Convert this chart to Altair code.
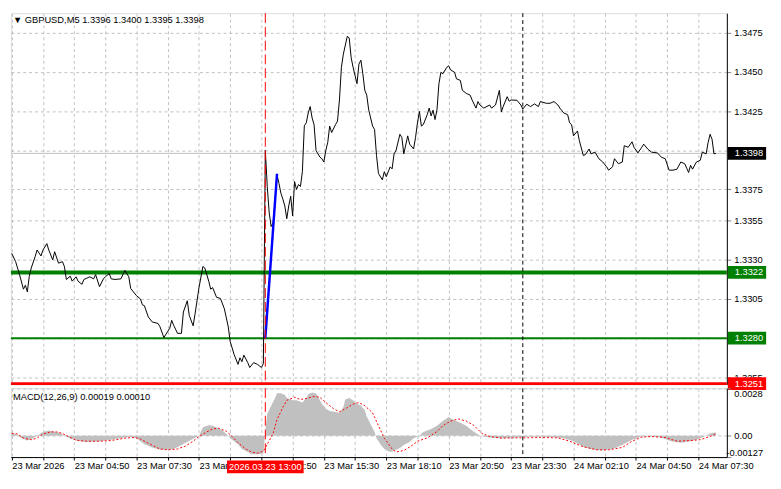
import altair as alt
import pandas as pd

# ---------------- data ----------------
price_times = [
    "03-23 02:10", "03-23 02:20", "03-23 02:30", "03-23 02:40", "03-23 02:45", "03-23 02:50", "03-23 02:55", "03-23 03:00",
    "03-23 03:10", "03-23 03:15", "03-23 03:25", "03-23 03:30", "03-23 03:40", "03-23 03:45", "03-23 03:55", "03-23 04:00",
    "03-23 04:10", "03-23 04:20", "03-23 04:25", "03-23 04:30", "03-23 04:40", "03-23 04:45", "03-23 04:55", "03-23 05:00",
    "03-23 05:10", "03-23 05:15", "03-23 05:30", "03-23 05:40", "03-23 05:45", "03-23 05:55", "03-23 06:05", "03-23 06:10",
    "03-23 06:20", "03-23 06:25", "03-23 06:35", "03-23 06:50", "03-23 07:00", "03-23 07:10", "03-23 07:15", "03-23 07:30",
    "03-23 07:40", "03-23 07:45", "03-23 07:50", "03-23 08:00", "03-23 08:10", "03-23 08:25", "03-23 08:30", "03-23 08:40",
    "03-23 08:55", "03-23 09:00", "03-23 09:05", "03-23 09:15", "03-23 09:25", "03-23 09:30", "03-23 09:40", "03-23 09:45",
    "03-23 09:55", "03-23 10:00", "03-23 10:10", "03-23 10:20", "03-23 10:25", "03-23 10:35", "03-23 10:40", "03-23 10:45",
    "03-23 10:55", "03-23 11:05", "03-23 11:15", "03-23 11:25", "03-23 11:30", "03-23 11:40", "03-23 11:50", "03-23 11:55",
    "03-23 12:00", "03-23 12:05", "03-23 12:15", "03-23 12:20", "03-23 12:30", "03-23 12:40", "03-23 12:50", "03-23 12:55",
    "03-23 13:00", "03-23 13:05", "03-23 13:10", "03-23 13:15", "03-23 13:20", "03-23 13:25", "03-23 13:30", "03-23 13:35",
    "03-23 13:40", "03-23 13:45", "03-23 13:50", "03-23 13:55", "03-23 14:00", "03-23 14:05", "03-23 14:10", "03-23 14:15",
    "03-23 14:20", "03-23 14:25", "03-23 14:30", "03-23 14:35", "03-23 14:40", "03-23 14:45", "03-23 14:50", "03-23 14:55",
    "03-23 15:00", "03-23 15:05", "03-23 15:10", "03-23 15:20", "03-23 15:25", "03-23 15:30", "03-23 15:35", "03-23 15:40",
    "03-23 15:45", "03-23 15:50", "03-23 16:00", "03-23 16:05", "03-23 16:10", "03-23 16:15", "03-23 16:20", "03-23 16:30",
    "03-23 16:35", "03-23 16:40", "03-23 16:45", "03-23 16:50", "03-23 16:55", "03-23 17:00", "03-23 17:05", "03-23 17:10",
    "03-23 17:15", "03-23 17:20", "03-23 17:25", "03-23 17:35", "03-23 17:40", "03-23 17:45", "03-23 17:50", "03-23 18:00",
    "03-23 18:05", "03-23 18:10", "03-23 18:20", "03-23 18:25", "03-23 18:30", "03-23 18:35", "03-23 18:45", "03-23 18:50",
    "03-23 18:55", "03-23 19:05", "03-23 19:10", "03-23 19:20", "03-23 19:25", "03-23 19:30", "03-23 19:35", "03-23 19:40",
    "03-23 19:45", "03-23 19:55", "03-23 20:00", "03-23 20:05", "03-23 20:10", "03-23 20:15", "03-23 20:20", "03-23 20:25",
    "03-23 20:30", "03-23 20:35", "03-23 20:45", "03-23 20:50", "03-23 20:55", "03-23 21:05", "03-23 21:10", "03-23 21:20",
    "03-23 21:25", "03-23 21:35", "03-23 21:45", "03-23 21:50", "03-23 22:00", "03-23 22:05", "03-23 22:10", "03-23 22:20",
    "03-23 22:35", "03-23 22:40", "03-23 22:50", "03-23 23:00", "03-23 23:05", "03-23 23:10", "03-23 23:20", "03-23 23:25",
    "03-23 23:30", "03-23 23:45", "03-23 23:55", "03-24 00:00", "03-24 00:10", "03-24 00:20", "03-24 00:30", "03-24 00:40",
    "03-24 00:45", "03-24 01:00", "03-24 01:10", "03-24 01:20", "03-24 01:30", "03-24 01:35", "03-24 01:45", "03-24 01:55",
    "03-24 02:00", "03-24 02:05", "03-24 02:10", "03-24 02:20", "03-24 02:25", "03-24 02:35", "03-24 02:40", "03-24 02:50",
    "03-24 02:55", "03-24 03:05", "03-24 03:15", "03-24 03:25", "03-24 03:35", "03-24 03:40", "03-24 03:50", "03-24 03:55",
    "03-24 04:05", "03-24 04:15", "03-24 04:20", "03-24 04:30", "03-24 04:40", "03-24 04:45", "03-24 04:55", "03-24 05:05",
    "03-24 05:10", "03-24 05:20", "03-24 05:30", "03-24 05:45", "03-24 05:55", "03-24 06:05", "03-24 06:15", "03-24 06:25",
    "03-24 06:35", "03-24 06:45", "03-24 06:55", "03-24 07:05", "03-24 07:10", "03-24 07:15", "03-24 07:25", "03-24 07:35",
    "03-24 07:40", "03-24 07:50", "03-24 07:55", "03-24 08:00", "03-24 08:05", "03-24 08:10", "03-24 08:15",
]
price_values = [
    1.33342, 1.33289, 1.33206, 1.33113, 1.33138, 1.33096, 1.33196, 1.33248,
    1.33321, 1.33363, 1.33325, 1.33363, 1.33404, 1.33363, 1.33300, 1.33352,
    1.33279, 1.33289, 1.33258, 1.33175, 1.33196, 1.33164, 1.33192, 1.33164,
    1.33144, 1.33175, 1.33192, 1.33179, 1.33206, 1.33129, 1.33179, 1.33192,
    1.33213, 1.33179, 1.33175, 1.33179, 1.33233, 1.33192, 1.33117, 1.33071,
    1.33050, 1.33013, 1.33008, 1.32936, 1.32904, 1.32894, 1.32873, 1.32804,
    1.32863, 1.32914, 1.32883, 1.32831, 1.32831, 1.32967, 1.33039, 1.32946,
    1.32879, 1.32956, 1.33123, 1.33258, 1.33248, 1.33164, 1.33113, 1.33123,
    1.33061, 1.33054, 1.32988, 1.32873, 1.32779, 1.32696, 1.32633, 1.32675,
    1.32650, 1.32692, 1.32644, 1.32613, 1.32644, 1.32633, 1.32613, 1.32638,
    1.34000, 1.33769, 1.33600, 1.33513, 1.33538, 1.33675, 1.33844, 1.33788,
    1.33725, 1.33688, 1.33644, 1.33563, 1.33644, 1.33706, 1.33581, 1.33800,
    1.33750, 1.33781, 1.33769, 1.33863, 1.34156, 1.34175, 1.34238, 1.34279,
    1.34206, 1.34163, 1.33998, 1.33956, 1.33946, 1.33925, 1.33998, 1.34050,
    1.34154, 1.34113, 1.34164, 1.34186, 1.34321, 1.34529, 1.34613, 1.34727,
    1.34717, 1.34592, 1.34529, 1.34477, 1.34425, 1.34550, 1.34575, 1.34488,
    1.34383, 1.34352, 1.34258, 1.34154, 1.34133, 1.33967, 1.33852, 1.33811,
    1.33863, 1.33831, 1.33894, 1.33881, 1.33977, 1.33998, 1.34102, 1.34081,
    1.33977, 1.34092, 1.34039, 1.34008, 1.34081, 1.34175, 1.34248, 1.34154,
    1.34164, 1.34227, 1.34269, 1.34219, 1.34256, 1.34196, 1.34258, 1.34425,
    1.34498, 1.34488, 1.34529, 1.34539, 1.34513, 1.34498, 1.34456, 1.34446,
    1.34383, 1.34363, 1.34352, 1.34321, 1.34269, 1.34311, 1.34289, 1.34269,
    1.34289, 1.34269, 1.34289, 1.34383, 1.34244, 1.34281, 1.34342, 1.34313,
    1.34321, 1.34319, 1.34289, 1.34263, 1.34294, 1.34279, 1.34296, 1.34279,
    1.34311, 1.34300, 1.34300, 1.34311, 1.34289, 1.34269, 1.34238, 1.34227,
    1.34175, 1.34164, 1.34092, 1.34123, 1.34061, 1.33967, 1.33971, 1.34008,
    1.33977, 1.33988, 1.33946, 1.33925, 1.33894, 1.33873, 1.33894, 1.33946,
    1.33914, 1.33925, 1.34029, 1.34019, 1.34054, 1.34019, 1.33983, 1.34019,
    1.34039, 1.34008, 1.33988, 1.33983, 1.33956, 1.33946, 1.33873, 1.33873,
    1.33879, 1.33925, 1.33914, 1.33858, 1.33904, 1.33879, 1.33925, 1.33936,
    1.33988, 1.33977, 1.34050, 1.34102, 1.34071, 1.33977, 1.33980,
]

blue_times = ["03-23 13:00", "03-23 13:30"]
blue_values = [1.3280, 1.3385]

macd_times = [
    "03-23 02:10", "03-23 02:20", "03-23 02:35", "03-23 02:50", "03-23 03:05", "03-23 03:15", "03-23 03:30", "03-23 03:45",
    "03-23 03:55", "03-23 04:15", "03-23 04:25", "03-23 04:40", "03-23 04:55", "03-23 05:20", "03-23 05:55", "03-23 06:25",
    "03-23 07:00", "03-23 07:20", "03-23 07:35", "03-23 07:50", "03-23 08:10", "03-23 08:30", "03-23 08:50", "03-23 09:05",
    "03-23 09:20", "03-23 09:30", "03-23 09:40", "03-23 09:55", "03-23 10:10", "03-23 10:20", "03-23 10:35", "03-23 10:45",
    "03-23 11:00", "03-23 11:10", "03-23 11:25", "03-23 11:35", "03-23 11:50", "03-23 12:00", "03-23 12:15", "03-23 12:25",
    "03-23 12:40", "03-23 12:55", "03-23 13:00", "03-23 13:05", "03-23 13:15", "03-23 13:25", "03-23 13:30", "03-23 13:40",
    "03-23 13:50", "03-23 13:55", "03-23 14:10", "03-23 14:20", "03-23 14:35", "03-23 14:45", "03-23 14:50", "03-23 15:00",
    "03-23 15:10", "03-23 15:15", "03-23 15:25", "03-23 15:35", "03-23 15:45", "03-23 16:00", "03-23 16:10", "03-23 16:20",
    "03-23 16:25", "03-23 16:35", "03-23 16:45", "03-23 16:50", "03-23 17:05", "03-23 17:15", "03-23 17:20", "03-23 17:30",
    "03-23 17:40", "03-23 17:45", "03-23 17:55", "03-23 18:05", "03-23 18:20", "03-23 18:30", "03-23 18:45", "03-23 18:55",
    "03-23 19:10", "03-23 19:20", "03-23 19:35", "03-23 19:45", "03-23 20:05", "03-23 20:20", "03-23 20:35", "03-23 20:50",
    "03-23 21:00", "03-23 21:20", "03-23 21:35", "03-23 21:50", "03-23 22:10", "03-23 22:35", "03-23 23:05", "03-23 23:40",
    "03-24 00:15", "03-24 00:45", "03-24 01:20", "03-24 01:45", "03-24 02:10", "03-24 02:35", "03-24 03:00", "03-24 03:25",
    "03-24 03:50", "03-24 04:15", "03-24 04:40", "03-24 05:05", "03-24 05:30", "03-24 05:55", "03-24 06:20", "03-24 06:45",
    "03-24 07:10", "03-24 07:25", "03-24 07:45", "03-24 08:00", "03-24 08:10", "03-24 08:15",
]
macd_values = [
    0.00013, 0.00010, -0.00015, -0.00029, -0.00015, 0.0, 0.00022, 0.00031,
    0.00026, 0.00015, 0.0, -0.00015, -0.00029, -0.00037, -0.00033, -0.00024,
    -0.00011, -0.00007, -0.00024, -0.00051, -0.00070, -0.00084, -0.00084, -0.00079,
    -0.00062, -0.00050, -0.00038, -0.00018, 0.0, 0.00049, 0.00062, 0.00059,
    0.00044, 0.00031, 0.0, -0.00024, -0.00051, -0.00079, -0.00097, -0.00110,
    -0.00110, -0.00106, 0.00030, 0.00130, 0.00177, 0.00223, 0.00251, 0.00251,
    0.00240, 0.00223, 0.00209, 0.00209, 0.00196, 0.00223, 0.00245, 0.00256,
    0.00250, 0.00232, 0.00187, 0.00159, 0.00146, 0.00140, 0.00135, 0.00168,
    0.00214, 0.00223, 0.00209, 0.00196, 0.00177, 0.00150, 0.00114, 0.00068,
    0.00022, -0.00015, -0.00051, -0.00079, -0.00097, -0.00090, -0.00073, -0.00055,
    -0.00037, -0.00015, 0.0, 0.00022, 0.00040, 0.00059, 0.00086, 0.00110,
    0.00095, 0.00077, 0.00059, 0.00031, 0.0, -0.00011, -0.00015, -0.00011,
    -0.00007, -0.00007, -0.00009, -0.00015, -0.00033, -0.00066, -0.00084, -0.00088,
    -0.00079, -0.00055, -0.00024, -0.00005, -0.00005, -0.00011, -0.00033, -0.00042,
    -0.00033, -0.00024, -0.00005, 0.00013, 0.00018, 0.00019,
]

signal_times = [
    "03-23 02:10", "03-23 02:25", "03-23 02:40", "03-23 03:00", "03-23 03:15", "03-23 03:30", "03-23 03:50", "03-23 04:05",
    "03-23 04:20", "03-23 04:40", "03-23 04:55", "03-23 05:20", "03-23 05:55", "03-23 06:25", "03-23 07:00", "03-23 07:25",
    "03-23 07:40", "03-23 08:05", "03-23 08:30", "03-23 08:50", "03-23 09:15", "03-23 09:35", "03-23 09:55", "03-23 10:10",
    "03-23 10:30", "03-23 10:45", "03-23 11:00", "03-23 11:20", "03-23 11:35", "03-23 11:50", "03-23 12:10", "03-23 12:25",
    "03-23 12:40", "03-23 12:55", "03-23 13:05", "03-23 13:20", "03-23 13:30", "03-23 13:45", "03-23 13:55", "03-23 14:15",
    "03-23 14:30", "03-23 14:45", "03-23 15:05", "03-23 15:20", "03-23 15:35", "03-23 15:55", "03-23 16:10", "03-23 16:25",
    "03-23 16:45", "03-23 17:00", "03-23 17:15", "03-23 17:35", "03-23 17:50", "03-23 18:05", "03-23 18:25", "03-23 18:35",
    "03-23 18:55", "03-23 19:15", "03-23 19:30", "03-23 19:55", "03-23 20:20", "03-23 20:35", "03-23 20:55", "03-23 21:15",
    "03-23 21:35", "03-23 21:55", "03-23 22:15", "03-23 22:35", "03-23 23:05", "03-23 23:40", "03-24 00:15", "03-24 00:45",
    "03-24 01:30", "03-24 02:00", "03-24 02:35", "03-24 03:10", "03-24 03:40", "03-24 04:15", "03-24 04:40", "03-24 05:05",
    "03-24 05:30", "03-24 06:05", "03-24 06:35", "03-24 07:10", "03-24 07:35", "03-24 08:00", "03-24 08:15",
]
signal_values = [
    0.00013, 0.00010, -0.00015, -0.00024, -0.00015, 0.00010, 0.00022, 0.00022,
    0.00013, -0.00011, -0.00027, -0.00033, -0.00033, -0.00029, -0.00015, -0.00011,
    -0.00020, -0.00051, -0.00079, -0.00084, -0.00079, -0.00062, -0.00033, -0.00005,
    0.00022, 0.00040, 0.00044, 0.00026, -0.00005, -0.00042, -0.00079, -0.00097,
    -0.00104, -0.00092, -0.00051, 0.00013, 0.00095, 0.00168, 0.00209, 0.00227,
    0.00214, 0.00220, 0.00232, 0.00227, 0.00196, 0.00159, 0.00141, 0.00159,
    0.00187, 0.00196, 0.00177, 0.00135, 0.00059, -0.00015, -0.00079, -0.00097,
    -0.00088, -0.00060, -0.00033, -0.00013, 0.00024, 0.00059, 0.00086, 0.00099,
    0.00086, 0.00060, 0.00013, -0.00005, -0.00015, -0.00013, -0.00013, -0.00011,
    -0.00013, -0.00033, -0.00066, -0.00084, -0.00084, -0.00070, -0.00033, -0.00009,
    -0.00005, -0.00011, -0.00033, -0.00029, -0.00024, -0.00005, 0.00010,
]

level_prices = [1.3322, 1.3280, 1.3251]
level_colors = ["#008000", "#008000", "#ff0000"]
level_widths = [4, 2, 3]
bid_price = 1.3398

box_prices = [1.3398, 1.3322, 1.3280, 1.3251]
box_colors = ["#000000", "#008000", "#008000", "#ff0000"]

event_time = "03-23 13:00"
day_sep_time = "03-24 00:00"

y_ticks = [1.3475, 1.3450, 1.3425, 1.3400, 1.3375, 1.3355, 1.3330, 1.3305, 1.3280, 1.3255]
y_hidden = [1.3400, 1.3280]          # labels fully covered by the price boxes
macd_ticks = [0.0028, 0.0, -0.00127]
macd_tick_labels = ["0.0028", "0.00", "-0.00127"]

x_tick_times = [
    "03-23 02:10", "03-23 03:30", "03-23 04:50", "03-23 06:10", "03-23 07:30", "03-23 08:50", "03-23 10:10", "03-23 11:30",
    "03-23 12:50", "03-23 14:10", "03-23 15:30", "03-23 16:50", "03-23 18:10", "03-23 19:30", "03-23 20:50", "03-23 22:10",
    "03-23 23:30", "03-24 00:50", "03-24 02:10", "03-24 03:30", "03-24 04:50", "03-24 06:10", "03-24 07:30",
]
x_tick_labels = [
    "23 Mar 2026", "", "23 Mar 04:50", "", "23 Mar 07:30", "", "23 Mar 10:10", "",
    "23 Mar 12:50", "", "23 Mar 15:30", "", "23 Mar 18:10", "", "23 Mar 20:50", "",
    "23 Mar 23:30", "", "24 Mar 02:10", "", "24 Mar 04:50", "", "24 Mar 07:30",
]

title_text = "\u25bc GBPUSD,M5  1.3396 1.3400 1.3395 1.3398"
macd_text = "MACD(12,26,9) 0.00019 0.00010"
event_label = "2026.03.23 13:00"

# ---------------- helpers ----------------
def to_min(s):
    md, hm = s.split(" ")
    day = int(md.split("-")[1])
    h, m = hm.split(":")
    return (day - 23) * 1440 + int(h) * 60 + int(m)

W, H_MAIN, H_MACD = 729, 378, 70
X_DOMAIN = [128, 1963]
P_DOMAIN = [1.32505, 1.34875]
M_DOMAIN = [-0.00127, 0.0028]
FONT = "Liberation Sans"
FS = 9.5
GRID = "#c0c0c0"
SILVER = "#c0c0c0"

assert len(price_times) == len(price_values)
assert len(macd_times) == len(macd_values)
assert len(signal_times) == len(signal_values)

price_df = pd.DataFrame({"t": [to_min(s) for s in price_times], "p": price_values})
blue_df = pd.DataFrame({"t": [to_min(s) for s in blue_times], "p": blue_values})
level_df = pd.DataFrame({"p": level_prices, "c": level_colors, "w": level_widths})
bid_df = pd.DataFrame({"p": [bid_price]})
box_df = pd.DataFrame({"p": box_prices, "bg": box_colors,
                       "label": [f"{v:.4f}" for v in box_prices]})
ev_df = pd.DataFrame({"t": [to_min(event_time)], "label": [event_label]})
sep_df = pd.DataFrame({"t": [to_min(day_sep_time)]})
macd_df = pd.DataFrame({"t": [to_min(s) for s in macd_times], "v": macd_values})
sig_df = pd.DataFrame({"t": [to_min(s) for s in signal_times], "v": signal_values})
one_df = pd.DataFrame({"a": [0]})

grid_t = [to_min(s) for s in x_tick_times]
x_label_expr = "".join(f"datum.value == {t} ? '{lab}' : " for t, lab in zip(grid_t, x_tick_labels)) + "''"
m_label_expr = "".join(f"abs(datum.value - ({v})) < 1e-9 ? '{lab}' : " for v, lab in zip(macd_ticks, macd_tick_labels)) + "''"
p_label_expr = "".join(f"abs(datum.value - {v}) < 1e-7 ? '' : " for v in y_hidden) + "format(datum.value, '.4f')"

# ---------------- main price panel ----------------
x_main = alt.X("t:Q", scale=alt.Scale(domain=X_DOMAIN, nice=False, zero=False),
               axis=alt.Axis(values=grid_t, grid=True, gridDash=[3, 3], gridColor=GRID,
                             labels=False, ticks=False, domain=False, title=None))
y_main = alt.Y("p:Q", scale=alt.Scale(domain=P_DOMAIN, nice=False, zero=False),
               axis=alt.Axis(orient="right", values=y_ticks, labelExpr=p_label_expr, grid=True,
                             gridDash=[3, 3], gridColor=GRID, tickSize=4, tickColor="#808080",
                             labelPadding=3, labelFont=FONT, labelFontSize=FS, labelColor="black",
                             domainColor="black", title=None, labelOverlap=False, labelFlush=False))

price_line = alt.Chart(price_df).mark_line(color="black", strokeWidth=1).encode(x=x_main, y=y_main)
bid_line = alt.Chart(bid_df).mark_rule(color=SILVER, strokeWidth=1).encode(y=y_main)
level_lines = alt.Chart(level_df).mark_rule().encode(
    y=y_main,
    color=alt.Color("c:N", scale=None),
    strokeWidth=alt.StrokeWidth("w:Q", scale=None),
)
blue_line = alt.Chart(blue_df).mark_line(color="#0000ff", strokeWidth=2.5).encode(x=x_main, y=y_main)
ev_rule = alt.Chart(ev_df).mark_rule(color="#ff0000", strokeWidth=1, strokeDash=[10, 4]).encode(x=x_main)
sep_rule = alt.Chart(sep_df).mark_rule(color="black", strokeWidth=1, strokeDash=[4, 3]).encode(x=x_main)
box_bg = alt.Chart(box_df).mark_rule(strokeWidth=13, strokeCap="butt").encode(
    y=y_main, x=alt.value(W + 1), x2=alt.value(W + 40), color=alt.Color("bg:N", scale=None))
box_txt = alt.Chart(box_df).mark_text(align="left", baseline="middle", font=FONT, fontSize=FS,
                                      color="white").encode(
    y=y_main, x=alt.value(W + 8), text="label:N")
title_mark = alt.Chart(one_df).mark_text(align="left", baseline="top", font=FONT, fontSize=FS,
                                         color="black").encode(
    x=alt.value(2), y=alt.value(2), text=alt.value(title_text))

main = alt.layer(level_lines, bid_line, price_line, blue_line, ev_rule, sep_rule,
                 box_bg, box_txt, title_mark).properties(width=W, height=H_MAIN)

# ---------------- MACD panel ----------------
x_macd = alt.X("t:Q", scale=alt.Scale(domain=X_DOMAIN, nice=False, zero=False),
               axis=alt.Axis(values=grid_t, grid=True, gridDash=[3, 3], gridColor=GRID,
                             labelExpr=x_label_expr, labelAlign="left", labelOverlap=False,
                             labelFlush=False, labelFont=FONT, labelFontSize=FS, labelColor="black",
                             tickSize=3, tickColor="black", labelPadding=1, domainColor="black",
                             title=None))
y_macd = alt.Y("v:Q", scale=alt.Scale(domain=M_DOMAIN, nice=False, zero=False),
               axis=alt.Axis(orient="right", values=macd_ticks, labelExpr=m_label_expr,
                             labelFlush=True, grid=True, gridDash=[3, 3], gridColor=GRID,
                             tickSize=4, tickColor="#808080",
                             labelPadding={"condition": {"test": "datum.value < 0", "value": -5}, "value": 3},
                             labelFont=FONT, labelFontSize=FS, labelColor="black",
                             domainColor="black", title=None, labelOverlap=False))

hist = alt.Chart(macd_df).mark_area(color=SILVER, opacity=1).encode(x=x_macd, y=y_macd, y2=alt.datum(0))
sig = alt.Chart(sig_df).mark_line(color="#ff0000", strokeWidth=1, strokeDash=[2, 2]).encode(x=x_macd, y=y_macd)
ev_rule2 = alt.Chart(ev_df).mark_rule(color="#ff0000", strokeWidth=1, strokeDash=[10, 4]).encode(x=x_macd)
sep_rule2 = alt.Chart(sep_df).mark_rule(color="black", strokeWidth=1, strokeDash=[4, 3]).encode(x=x_macd)
macd_title = alt.Chart(one_df).mark_text(align="left", baseline="top", font=FONT, fontSize=FS,
                                         color="black").encode(
    x=alt.value(2), y=alt.value(4), text=alt.value(macd_text))
ev_box = alt.Chart(ev_df).mark_tick(orient="horizontal", size=78, thickness=13, color="#ff0000",
                                    opacity=1).encode(x=x_macd, y=alt.value(H_MACD + 10))
ev_txt = alt.Chart(ev_df).mark_text(align="center", baseline="middle", font=FONT, fontSize=FS,
                                    color="white").encode(x=x_macd, y=alt.value(H_MACD + 10), text="label:N")

macd = alt.layer(hist, sig, ev_rule2, sep_rule2, macd_title, ev_box, ev_txt).properties(
    width=W, height=H_MACD)

chart = (
    alt.vconcat(main, macd, spacing=4)
    .resolve_scale(x="independent", y="independent")
    .properties(padding={"left": 0, "top": 0, "right": 0, "bottom": 0}, bounds="flush")
    .configure_view(stroke="black", strokeWidth=1)
    .configure(background="white")
)

chart.save("out.html", embed_options={"renderer": "svg", "actions": False})
